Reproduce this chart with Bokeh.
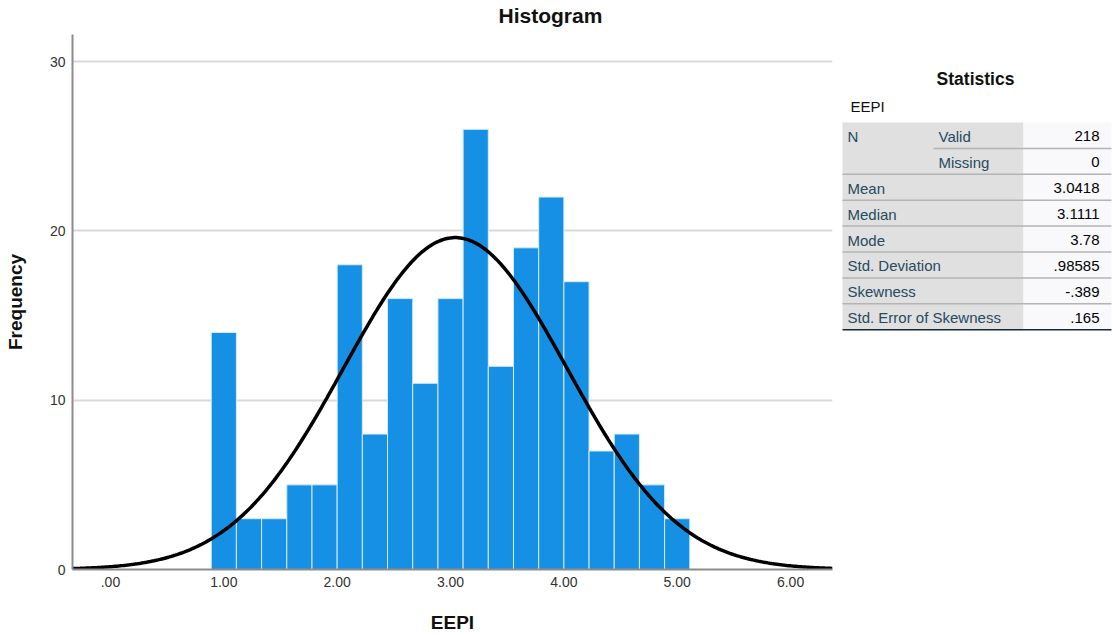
import math
from bokeh.plotting import figure
from bokeh.layouts import row
from bokeh.models import Range1d, FixedTicker, Title
from bokeh.core.properties import value
from bokeh.embed import file_html
from bokeh.resources import INLINE

# ---------------- data ----------------
bin_width = 2.0 / 9.0
first_center = 1.0
counts = [14, 3, 3, 5, 5, 18, 8, 16, 11, 16, 26, 12, 19, 22, 17, 7, 8, 5, 3]
n_valid = 218
mean_val = 3.0418
std_val = 0.98585
x_ticks = [0, 1, 2, 3, 4, 5, 6]
x_tick_labels = [".00", "1.00", "2.00", "3.00", "4.00", "5.00", "6.00"]
y_ticks = [0, 10, 20, 30]

stat_labels1 = ["N", "", "Mean", "Median", "Mode", "Std. Deviation", "Skewness", "Std. Error of Skewness"]
stat_labels2 = ["Valid", "Missing", "", "", "", "", "", ""]
stat_values = ["218", "0", "3.0418", "3.1111", "3.78", ".98585", "-.389", ".165"]

FONT = "Liberation Sans"
TOP, BOTTOM, LEFT = 34, 66, 72
H = 635
W1 = 838

# ---------------- histogram ----------------
x_lo, x_hi = -0.335, 6.37
p = figure(width=W1, height=H, output_backend="svg", toolbar_location=None,
           x_range=Range1d(x_lo, x_hi), y_range=Range1d(0, 31.6),
           min_border_left=LEFT, min_border_right=6, min_border_top=TOP, min_border_bottom=BOTTOM)
p.outline_line_color = None

# small spacer title (closest to the frame), then the real title above it
p.add_layout(Title(text=" ", text_font_size="5px", standoff=0), "above")
p.add_layout(Title(text="Histogram", text_font=FONT, text_font_size="21px", text_font_style="bold",
                   text_color="#111111", align="left", offset=426, standoff=0), "above")

lefts = [first_center + i * bin_width - bin_width / 2 for i in range(len(counts))]
rights = [l + bin_width for l in lefts]
p.quad(left=lefts, right=rights, bottom=0, top=counts,
       fill_color="#1590e4", line_color="#d6ebfb", line_width=1)

xs = [x_lo + (x_hi - x_lo) * i / 400 for i in range(401)]
ys = [n_valid * bin_width / (std_val * math.sqrt(2 * math.pi)) *
      math.exp(-0.5 * ((x - mean_val) / std_val) ** 2) for x in xs]
p.line(xs, ys, line_color="black", line_width=3.5)

p.xgrid.grid_line_color = None
p.ygrid.grid_line_color = "#d9d9d9"
p.ygrid.grid_line_width = 2
p.ygrid.ticker = FixedTicker(ticks=y_ticks[1:])

p.xaxis.ticker = FixedTicker(ticks=x_ticks)
p.xaxis.major_label_overrides = {t: l for t, l in zip(x_ticks, x_tick_labels)}
p.yaxis.ticker = FixedTicker(ticks=y_ticks)
for ax in (p.xaxis[0], p.yaxis[0]):
    ax.axis_line_color = "#8c8c8c"
    ax.axis_line_width = 2
    ax.major_tick_line_color = None
    ax.minor_tick_line_color = None
    ax.major_tick_out = 0
    ax.major_tick_in = 0
    ax.minor_tick_out = 0
    ax.minor_tick_in = 0
    ax.major_label_text_font = FONT
    ax.major_label_text_font_size = "14px"
    ax.major_label_text_color = "#333333"
    ax.axis_label_text_font = FONT
    ax.axis_label_text_font_size = "19px"
    ax.axis_label_text_font_style = "bold"
    ax.axis_label_text_color = "#111111"
p.xaxis.axis_label = "EEPI"
p.yaxis.axis_label = "Frequency"
p.xaxis.major_label_standoff = 7
p.yaxis.major_label_standoff = 7
p.xaxis.axis_label_standoff = 22
p.yaxis.axis_label_standoff = 21

# ---------------- statistics table ----------------
# frame is aligned with the histogram frame; y coordinates are page pixels
TW = 275
t = figure(width=TW, height=H, output_backend="svg", toolbar_location=None,
           x_range=Range1d(0, TW), y_range=Range1d(H - BOTTOM, TOP),
           min_border_left=0, min_border_right=0,
           min_border_top=TOP, min_border_bottom=BOTTOM)
t.axis.visible = False
t.grid.visible = False
t.outline_line_color = None

c0, c1, c2, c3 = 4, 95, 185, 273
top0 = 122
rh = 25.9
nrows = len(stat_values)
row_tops = [top0 + i * rh for i in range(nrows)]
row_bots = [r + rh for r in row_tops]

t.quad(left=c0, right=c2, top=top0, bottom=row_bots[-1], fill_color="#e0e0e0", line_color=None)
t.quad(left=c2, right=c3, top=top0, bottom=row_bots[-1], fill_color="#f9f9fb", line_color=None)

for i in range(nrows - 1):
    left = c1 if i == 0 else c0
    t.segment(x0=left, x1=c3, y0=row_bots[i], y1=row_bots[i], line_color="#b4b4b4", line_width=1.5)
t.segment(x0=c0, x1=c3, y0=row_bots[-1], y1=row_bots[-1], line_color="#152935", line_width=1.5)

mids = [r + rh / 2 + 1 for r in row_tops]
FS = "15px"
t.text(x=[c0 + 5] * nrows, y=mids, text=stat_labels1, text_font=value(FONT), text_font_size=FS,
       text_color="#264a60", text_baseline="middle", text_align="left")
t.text(x=[c1 + 5] * nrows, y=mids, text=stat_labels2, text_font=value(FONT), text_font_size=FS,
       text_color="#264a60", text_baseline="middle", text_align="left")
t.text(x=[c3 - 12] * nrows, y=mids, text=stat_values, text_font=value(FONT), text_font_size=FS,
       text_color="#010205", text_baseline="middle", text_align="right")

t.text(x=[137], y=[78], text=["Statistics"], text_font=value(FONT), text_font_size="17.5px",
       text_font_style="bold", text_color="#111111", text_baseline="middle", text_align="center")
t.text(x=[c0 + 8], y=[106], text=["EEPI"], text_font=value(FONT), text_font_size="15px",
       text_color="#111111", text_baseline="middle", text_align="left")

layout = row(p, t, spacing=0)
open("out.html", "w").write(file_html(layout, INLINE))
